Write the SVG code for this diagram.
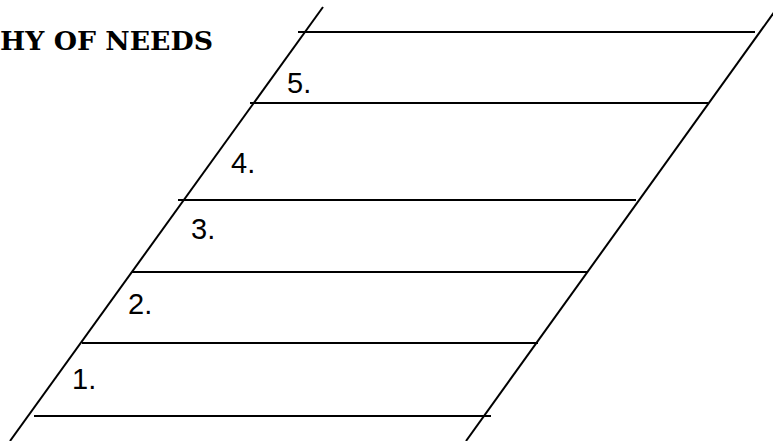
<svg xmlns="http://www.w3.org/2000/svg" width="773" height="441" viewBox="0 0 773 441">
  <style>
    .ln { stroke: #000; stroke-width: 2; fill: none; }
    .num { font-family: "Liberation Sans", Arial, sans-serif; font-size: 29px; fill: #000; }
    .title { font-family: "DejaVu Serif", "Liberation Serif", serif; font-weight: bold; font-size: 25px; fill: #000; }
  </style>
  <rect width="773" height="441" fill="#fff"/>
  <g id="title">
    <text class="title" x="0" y="50" textLength="213" lengthAdjust="spacingAndGlyphs" style="font-size:26px">HY OF NEEDS</text>
  </g>
  <g id="ladder">
    <line class="ln" x1="10" y1="441" x2="323" y2="7"/>
    <line class="ln" x1="466" y1="441" x2="775" y2="11"/>
    <line class="ln" x1="298" y1="32" x2="755" y2="32"/>
    <line class="ln" x1="250" y1="103" x2="708" y2="103"/>
    <line class="ln" x1="178" y1="200" x2="636" y2="200"/>
    <line class="ln" x1="132" y1="272" x2="587" y2="272"/>
    <line class="ln" x1="82" y1="343" x2="538" y2="343"/>
    <line class="ln" x1="34" y1="416" x2="491" y2="416"/>
  </g>
  <g id="level5"><text class="num" x="287" y="93">5.</text></g>
  <g id="level4"><text class="num" x="231" y="173">4.</text></g>
  <g id="level3"><text class="num" x="191" y="239">3.</text></g>
  <g id="level2"><text class="num" x="128" y="314">2.</text></g>
  <g id="level1"><text class="num" x="72" y="389">1.</text></g>
</svg>
